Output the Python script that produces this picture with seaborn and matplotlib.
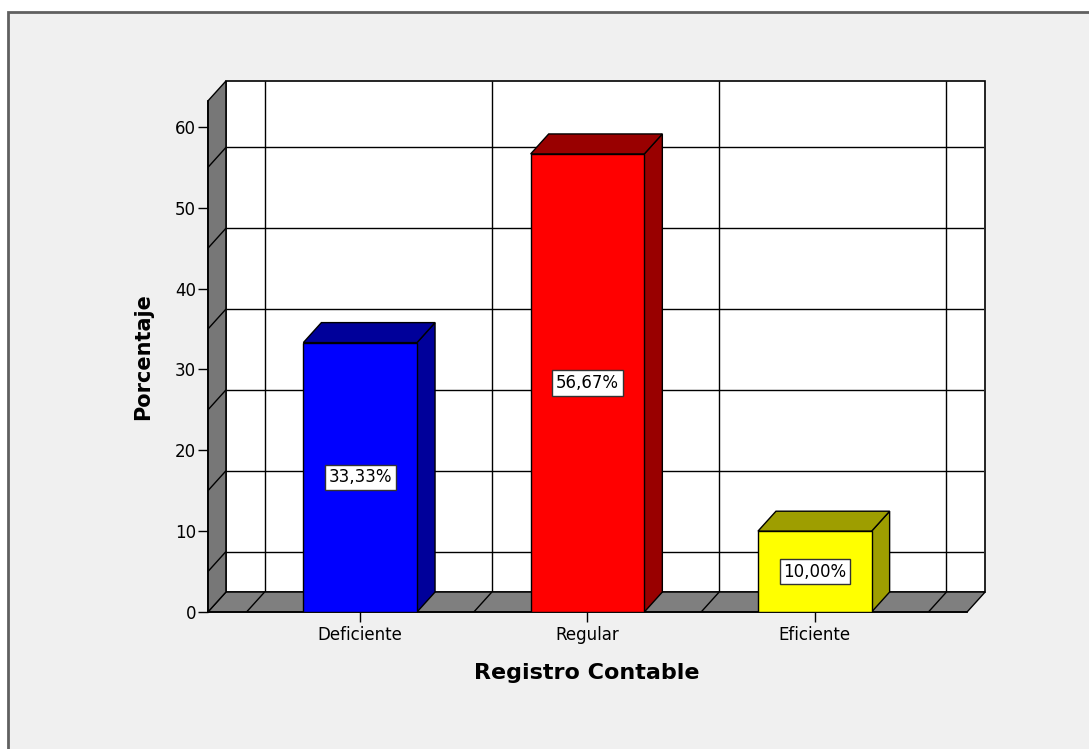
import matplotlib
matplotlib.use("Agg")
import matplotlib.pyplot as plt
from matplotlib.patches import Polygon, Rectangle
import seaborn as sns

# Registro Contable: distribution of responses (%)
categories = ["Deficiente", "Regular", "Eficiente"]
percentages = [33.33, 56.67, 10.00]
value_labels = ["33,33%", "56,67%", "10,00%"]
y_ticks = [0, 10, 20, 30, 40, 50, 60]
wall_grid = [5, 15, 25, 35, 45, 55]

front_colors = ["#0000FF", "#FF0000", "#FFFF00"]
shade_colors = ["#00009A", "#990000", "#9E9E00"]

sns.set_theme(style="white")
plt.rcParams["font.family"] = ["DejaVu Sans"]

W, H = 1089, 749
fig = plt.figure(figsize=(W / 100, H / 100), dpi=100)
fig.patch.set_facecolor("white")

# SPSS-style chart frame
fig.add_artist(Rectangle((8 / W, -0.05), 1.1, (H - 12) / H + 0.05,
                         transform=fig.transFigure, facecolor="#F0F0F0",
                         edgecolor="#606060", linewidth=2.0, zorder=-10))

ax = fig.add_axes([208 / W, (H - 612) / H, 776 / W, 531 / H])
ax.set_facecolor("none")

sns.barplot(x=categories, y=percentages, hue=categories, palette=front_colors,
            saturation=1, width=0.5, edgecolor="black", linewidth=1.0,
            legend=False, ax=ax, zorder=6)

x0, x1 = -0.6696, 2.7445
y_top = 65.69
ax.set_xlim(x0, x1)
ax.set_ylim(0, y_top)

# depth offset of the pseudo-3D box (data units)
dx, dy = 0.0793, 2.47
fx0, fx1 = -0.67, 2.67        # front floor edge
line_kw = dict(color="black", linewidth=1.0, solid_capstyle="butt")

# back wall
ax.add_patch(Polygon([(fx0 + dx, dy), (fx1 + dx, dy), (fx1 + dx, y_top),
                      (fx0 + dx, y_top)], closed=True, facecolor="white",
                     edgecolor="black", linewidth=1.2, zorder=1, clip_on=False))
# floor
ax.add_patch(Polygon([(fx0, 0), (fx1, 0), (fx1 + dx, dy), (fx0 + dx, dy)],
                     closed=True, facecolor="#7F7F7F", edgecolor="black",
                     linewidth=1.0, zorder=2, clip_on=False))
# left wall
ax.add_patch(Polygon([(fx0, 0), (fx0 + dx, dy), (fx0 + dx, y_top),
                      (fx0, y_top - dy)], closed=True, facecolor="#777777",
                     edgecolor="black", linewidth=1.0, zorder=2, clip_on=False))

# gridlines on the back wall and their continuation on the side wall
for v in wall_grid:
    ax.plot([fx0 + dx, fx1 + dx], [v + dy, v + dy], zorder=1.5, **line_kw)
    ax.plot([fx0, fx0 + dx], [v, v + dy], zorder=3, **line_kw)

# category boundaries on the back wall and the floor
for b in [-0.5, 0.5, 1.5, 2.5]:
    ax.plot([b + dx, b + dx], [dy, y_top], zorder=1.5, **line_kw)
    ax.plot([b, b + dx], [0, dy], zorder=3, **line_kw)

# side and top faces of each bar
for bar, shade in zip(ax.patches, shade_colors):
    if not hasattr(bar, "get_x"):
        continue
    bx, bw, bh = bar.get_x(), bar.get_width(), bar.get_height()
    if bw <= 0 or bh <= 0:
        continue
    r = bx + bw
    side = Polygon([(r, 0), (r + dx, dy), (r + dx, bh + dy), (r, bh)],
                   closed=True, facecolor=shade, edgecolor="black",
                   linewidth=1.0, zorder=5, clip_on=False)
    top = Polygon([(bx, bh), (r, bh), (r + dx, bh + dy), (bx + dx, bh + dy)],
                  closed=True, facecolor=shade, edgecolor="black",
                  linewidth=1.0, zorder=5, clip_on=False)
    ax.add_patch(side)
    ax.add_patch(top)

# value labels in the middle of each bar
for i, (v, lab) in enumerate(zip(percentages, value_labels)):
    ax.text(i, v / 2, lab, ha="center", va="center", fontsize=12,
            color="black", zorder=8,
            bbox=dict(boxstyle="square,pad=0.22", facecolor="white",
                      edgecolor="#333333", linewidth=1.0))

# axes: only the front-left vertical edge and the front floor edge
for s in ["top", "right"]:
    ax.spines[s].set_visible(False)
ax.spines["left"].set_bounds(0, y_top - dy)
ax.spines["left"].set_position(("data", fx0))
ax.spines["left"].set_color("black")
ax.spines["left"].set_zorder(4)
ax.spines["bottom"].set_bounds(fx0, fx1)
ax.spines["bottom"].set_color("black")
ax.spines["bottom"].set_zorder(4)

ax.set_yticks(y_ticks)
ax.set_yticklabels([str(t) for t in y_ticks])
ax.set_xticks(range(len(categories)))
ax.set_xticklabels(categories)
ax.tick_params(axis="both", which="both", direction="out", length=7,
               width=1.0, color="black", labelsize=12, labelcolor="black",
               left=True, bottom=True)
ax.tick_params(axis="y", pad=1.5)
ax.tick_params(axis="x", pad=3)
ax.grid(False)

ax.set_xlabel("Registro Contable", fontsize=16, fontweight="bold", color="black")
ax.set_ylabel("Porcentaje", fontsize=15, fontweight="bold", color="black")
ax.xaxis.set_label_coords((587 - 208) / 776, (612 - 673) / 531)
ax.xaxis.label.set_verticalalignment("center")
ax.yaxis.set_label_coords((143 - 208) / 776, (612 - 357) / 531)
ax.yaxis.label.set_verticalalignment("center")

fig.savefig("out.png", dpi=100, facecolor=fig.get_facecolor())
